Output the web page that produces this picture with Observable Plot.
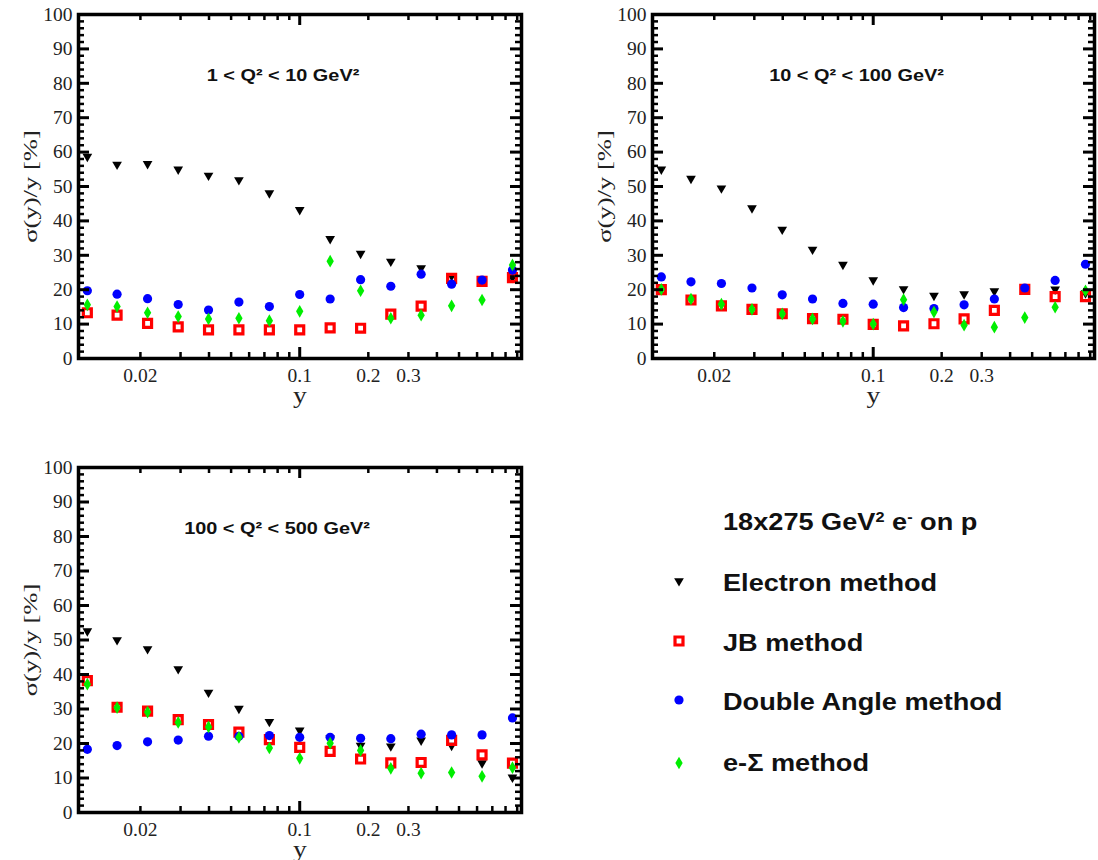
<!DOCTYPE html>
<html><head><meta charset="utf-8">
<script src="https://cdn.jsdelivr.net/npm/d3@7"></script>
<script src="https://cdn.jsdelivr.net/npm/@observablehq/plot@0.6"></script>
<style>
html,body{margin:0;padding:0;background:#fff;}
body{width:1098px;height:860px;overflow:hidden;position:relative;font-family:"Liberation Sans",Arial,sans-serif;}
.panel{position:absolute;}
.lg{position:absolute;font-weight:bold;font-size:23px;line-height:23px;transform-origin:left center;transform:scaleX(1.18);white-space:nowrap;color:#111;}
.lg sup{font-size:60%;vertical-align:0.55em;line-height:0;}
#lgmarks{position:absolute;left:650px;top:560px;}
</style></head><body>
<div id="p1" class="panel" style="left:0px;top:0px;width:540px;height:420px"></div>
<div id="p2" class="panel" style="left:575px;top:0px;width:523px;height:420px"></div>
<div id="p3" class="panel" style="left:0px;top:453px;width:540px;height:407px"></div>
<div id="legend"></div>
<script>
// ---- data ----
const yBins = [0.0117, 0.0158, 0.0215, 0.0293, 0.0398, 0.0541, 0.0736, 0.1, 0.136, 0.185, 0.251, 0.341, 0.464, 0.631, 0.858];
const methods = ["Electron method", "JB method", "Double Angle method", "e-\u03A3 method"];
const panelTitles = ["1 < Q\u00B2 < 10 GeV\u00B2", "10 < Q\u00B2 < 100 GeV\u00B2", "100 < Q\u00B2 < 500 GeV\u00B2"];
const legendTitle = "18x275 GeV<sup>2</sup> e<sup>-</sup> on p";
const yLabel = "\u03C3(y)/y [%]";
const xLabel = "y";

// 1 < Q2 < 10
const electron1 = [58.7, 56.4, 56.6, 55.0, 53.2, 51.9, 48.1, 43.2, 34.8, 30.5, 28.2, 26.3, 24.0, 22.5, 23.5];
const jb1       = [13.3, 12.6, 10.2, 9.2, 8.3, 8.3, 8.3, 8.3, 8.9, 8.8, 12.9, 15.2, 23.3, 22.4, 23.5];
const da1       = [19.7, 18.7, 17.4, 15.7, 14.1, 16.4, 15.1, 18.6, 17.3, 22.9, 21.0, 24.5, 21.6, 22.8, 25.7];
const es1       = [15.6, 15.1, 13.3, 12.2, 11.5, 11.7, 11.0, 13.7, 28.3, 19.7, 11.7, 12.6, 15.3, 17.0, 27.2];
// 10 < Q2 < 100
const electron2 = [55.0, 52.3, 49.5, 43.7, 37.5, 31.7, 27.3, 22.8, 20.2, 18.3, 18.7, 19.6, 20.3, 20.1, 19.0];
const jb2       = [20.0, 17.0, 15.3, 14.3, 13.0, 11.6, 11.4, 9.9, 9.5, 10.1, 11.5, 14.0, 20.1, 18.0, 18.0];
const da2       = [23.7, 22.3, 21.8, 20.5, 18.5, 17.3, 16.0, 15.8, 14.8, 14.5, 15.6, 17.3, 20.5, 22.7, 27.4];
const es2       = [20.1, 17.3, 15.8, 14.3, 13.0, 11.5, 10.8, 10.0, 17.1, 13.5, 9.7, 9.1, 11.9, 14.9, 19.7];
// 100 < Q2 < 500
const electron3 = [52.6, 50.0, 47.4, 41.6, 34.8, 30.1, 26.3, 23.8, 21.5, 19.4, 19.2, 20.9, 19.4, 14.3, 10.2];
const jb3       = [38.2, 30.5, 29.4, 26.9, 25.5, 23.3, 21.1, 18.9, 17.7, 15.5, 14.4, 14.5, 20.9, 16.7, 14.3];
const da3       = [18.3, 19.4, 20.5, 21.0, 22.1, 22.1, 22.3, 21.8, 21.8, 21.5, 21.4, 22.7, 22.5, 22.5, 27.4];
const es3       = [37.2, 30.4, 29.1, 26.1, 24.8, 21.8, 18.7, 15.7, 20.1, 18.0, 12.8, 11.4, 11.6, 10.5, 13.0];

// ticks
const yMajor = [0, 10, 20, 30, 40, 50, 60, 70, 80, 90, 100];
const yMinor = [2, 4, 6, 8, 12, 14, 16, 18, 22, 24, 26, 28, 32, 34, 36, 38, 42, 44, 46, 48, 52, 54, 56, 58, 62, 64, 66, 68, 72, 74, 76, 78, 82, 84, 86, 88, 92, 94, 96, 98];
const xMajor = [0.1];
const xLabeledMinor = [0.02, 0.2, 0.3];
const xMinor = [0.03, 0.04, 0.05, 0.06, 0.07, 0.08, 0.09, 0.4, 0.5, 0.6, 0.7, 0.8, 0.9];
const xDomain = [0.0107, 0.94];

// ---- styling ----
const RED = "#ff0000", BLUE = "#0000ff", GREEN = "#00ee00";
const triDown = {draw(ctx, size) {
  const s = Math.sqrt(size * 4 / Math.sqrt(3)), h = s * Math.sqrt(3) / 2;
  ctx.moveTo(-s / 2, -h / 3); ctx.lineTo(s / 2, -h / 3); ctx.lineTo(0, 2 * h / 3); ctx.closePath();
}};
const SERIF = "'Liberation Serif','Times New Roman',serif";
const SANS = "'Liberation Sans',Arial,sans-serif";
const MAJ = 11, MIN = 6; // inward tick lengths (px)

function stretch(svg, txt, sx) {
  d3.select(svg).selectAll("text").filter(function() { return this.textContent === txt; })
    .attr("transform", function() { return (this.getAttribute("transform") || "") + ` scale(${sx},1)`; });
}

function drawPanel(id, cfg) {
  const rows = arr => arr.map((v, i) => ({x: yBins[i], v}));
  const pw = cfg.width - cfg.mL - cfg.mR;   // frame width
  const ph = cfg.height - cfg.mT - cfg.mB;  // frame height
  const lab = {fontSize: 19.5, fill: "#222", label: null, tickSize: 0};
  const xSmall = xLabeledMinor.concat(xMinor);
  const tk = {stroke: "#000", strokeWidth: 3};
  const tm = {stroke: "#000", strokeWidth: 2.5};
  const svg = Plot.plot({
    width: cfg.width, height: cfg.height,
    marginLeft: cfg.mL, marginRight: cfg.mR, marginTop: cfg.mT, marginBottom: cfg.mB,
    style: {fontFamily: SERIF, background: "white", overflow: "visible", maxWidth: "none", color: "#000"},
    x: {type: "log", domain: xDomain, axis: null},
    y: {domain: [0, 100], axis: null},
    marks: [
      Plot.dot(rows(cfg.e), {x: "x", y: "v", symbol: triDown, r: 3.6, fill: "#000", stroke: "none"}),
      Plot.dot(rows(cfg.jb), {x: "x", y: "v", symbol: "square", r: 4.5, fill: "none", stroke: RED, strokeWidth: 3.2}),
      Plot.dot(rows(cfg.da), {x: "x", y: "v", symbol: "circle", r: 4.6, fill: BLUE, stroke: "none"}),
      Plot.dot(rows(cfg.es), {x: "x", y: "v", symbol: "diamond", r: 3.85, fill: GREEN, stroke: "none"}),
      // tick labels
      Plot.axisY({anchor: "left", ticks: yMajor, tickPadding: 6, tickFormat: d => String(d), ...lab}),
      Plot.axisX({anchor: "bottom", ticks: xMajor.concat(xLabeledMinor), tickPadding: 10, tickFormat: d => String(d), ...lab}),
      Plot.frame({stroke: "#000", strokeWidth: 3.5}),
      // inward ticks on all four sides (short rules via insets), drawn over the frame
      Plot.ruleY(yMajor, {y: d => d, insetRight: pw - MAJ, ...tk}),
      Plot.ruleY(yMinor, {y: d => d, insetRight: pw - MIN, ...tm}),
      Plot.ruleY(yMajor, {y: d => d, insetLeft: pw - MAJ, ...tk}),
      Plot.ruleY(yMinor, {y: d => d, insetLeft: pw - MIN, ...tm}),
      Plot.ruleX(xMajor, {x: d => d, insetTop: ph - MAJ, ...tk}),
      Plot.ruleX(xSmall, {x: d => d, insetTop: ph - MIN, ...tm}),
      Plot.ruleX(xMajor, {x: d => d, insetBottom: ph - MAJ, ...tk}),
      Plot.ruleX(xSmall, {x: d => d, insetBottom: ph - MIN, ...tm}),
      // labels
      Plot.text([cfg.title], {frameAnchor: "top", dx: cfg.titleDx, dy: 54.5, text: d => d, textAnchor: "middle", fontSize: 17, fontWeight: "bold", fontFamily: SANS, fill: "#111"}),
      Plot.text([yLabel], {frameAnchor: "left", dx: -48, rotate: -90, text: d => d, textAnchor: "middle", fontSize: 19, fill: "#222"}),
      Plot.text([xLabel], {frameAnchor: "bottom", dy: 44, text: d => d, textAnchor: "middle", fontSize: 24, fill: "#222"})
    ]
  });
  stretch(svg, cfg.title, 1.17);
  stretch(svg, yLabel, 1.4);
  stretch(svg, xLabel, 1.15);
  document.getElementById(id).appendChild(svg);
}

drawPanel("p1", {width: 540, height: 420, mL: 78, mR: 19, mT: 14, mB: 62, e: electron1, jb: jb1, da: da1, es: es1, title: panelTitles[0], titleDx: -17});
drawPanel("p2", {width: 523, height: 420, mL: 77, mR: 4, mT: 14, mB: 62, e: electron2, jb: jb2, da: da2, es: es2, title: panelTitles[1], titleDx: -17});
drawPanel("p3", {width: 540, height: 407, mL: 78, mR: 19, mT: 14, mB: 48, e: electron3, jb: jb3, da: da3, es: es3, title: panelTitles[2], titleDx: -23});

// ---- legend ----
const lg = document.getElementById("legend");
const lgTops = [572, 632, 691, 752];
const head = document.createElement("div");
head.className = "lg"; head.style.left = "723px"; head.style.top = "511px"; head.innerHTML = legendTitle;
lg.appendChild(head);
methods.forEach((m, i) => {
  const d = document.createElement("div");
  d.className = "lg"; d.style.left = "723px"; d.style.top = lgTops[i] + "px"; d.textContent = m;
  lg.appendChild(d);
});
const ms = d3.select(lg).append("svg").attr("id", "lgmarks").attr("width", 60).attr("height", 230);
const symDefs = [
  {sym: triDown, r: 3.6, fill: "#000", stroke: "none", sw: 0},
  {sym: d3.symbolSquare, r: 4.5, fill: "none", stroke: RED, sw: 3.2},
  {sym: d3.symbolCircle, r: 4.6, fill: BLUE, stroke: "none", sw: 0},
  {sym: d3.symbolDiamond, r: 3.85, fill: GREEN, stroke: "none", sw: 0}
];
const symY = [21, 81, 140, 203];
symDefs.forEach((s, i) => {
  ms.append("path").attr("transform", `translate(29,${symY[i]})`)
    .attr("d", d3.symbol(s.sym, Math.PI * s.r * s.r)())
    .attr("fill", s.fill).attr("stroke", s.stroke).attr("stroke-width", s.sw);
});
</script>
</body></html>
